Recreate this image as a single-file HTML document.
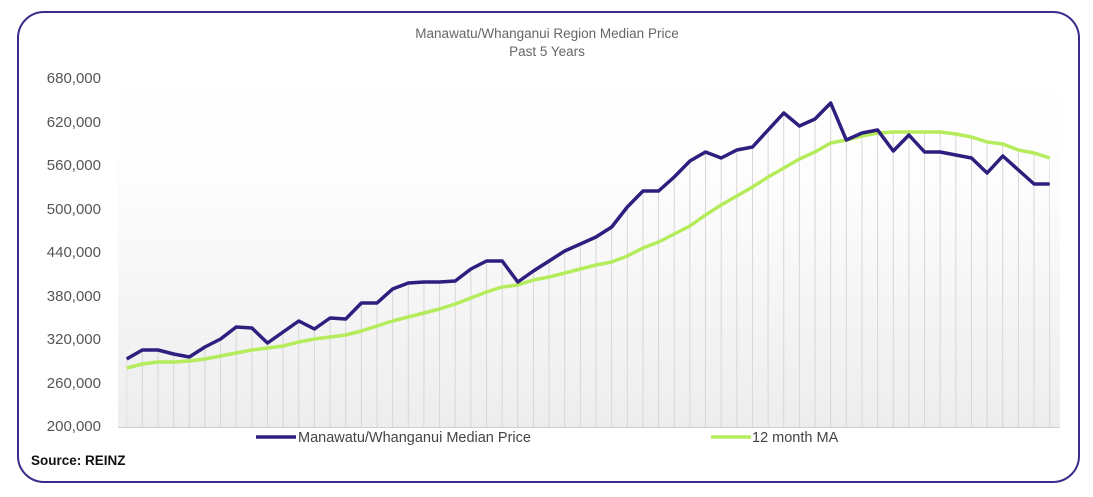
<!DOCTYPE html>
<html><head><meta charset="utf-8"><style>
html,body{margin:0;padding:0;background:#fff;}
svg{display:block;font-family:"Liberation Sans",sans-serif;}
</style></head><body>
<svg width="1093" height="497" viewBox="0 0 1093 497" xmlns="http://www.w3.org/2000/svg">
<defs>
<linearGradient id="bg" x1="0" y1="0" x2="0" y2="1">
<stop offset="0" stop-color="#ffffff"/><stop offset="0.3" stop-color="#fdfdfd"/><stop offset="1" stop-color="#ededed"/>
</linearGradient>
<pattern id="grid" patternUnits="userSpaceOnUse" x="126.2" y="0" width="15.644" height="10">
<rect x="0" y="0" width="1" height="10" fill="#d6d6d6"/>
</pattern>
<clipPath id="under">
<polygon points="126.7,428 126.7,359 142.3,350 158,350 173.6,354 189.3,357 204.9,347 220.6,339 236.2,327 251.9,328 267.5,343 283.1,332 298.8,321 314.4,329 330.1,318 345.7,319 361.4,303 377,303 392.6,289 408.3,283 423.9,282 439.6,282 455.2,281 470.9,269 486.5,261 502.2,261 517.8,282 533.4,271 549.1,261 564.7,251 580.4,244 596,237 611.7,227 627.3,207 643,191 658.6,191 674.2,177 689.9,161 705.5,152 721.2,158 736.8,150 752.5,147 768.1,130 783.8,113 799.4,126 815,119 830.7,103 846.3,140 862,133 877.6,130 893.3,151 908.9,135 924.6,152 940.2,152 955.8,155 971.5,158 987.1,173 1002.8,156 1018.4,170 1034.1,184 1049.7,184 1051,428"/>
<polygon points="126.7,428 830.7,428 830.7,143 846.3,140 862,136 877.6,133 893.3,132 908.9,132 924.6,132 940.2,132 955.8,134 971.5,137 987.1,142 1002.8,144 1018.4,150 1034.1,153 1049.7,158 1051,428"/>
</clipPath>
</defs>
<rect x="18" y="12" width="1061" height="470" rx="26" ry="26" fill="#fff" stroke="#3a2c8a" stroke-width="2"/>
<rect x="118" y="70" width="942" height="357" fill="url(#bg)"/>
<rect x="126" y="90" width="927" height="338" fill="url(#grid)" clip-path="url(#under)"/>
<line x1="118" y1="427.5" x2="1060" y2="427.5" stroke="#d0d0d0" stroke-width="1"/>
<g font-size="13.5" fill="#666" text-anchor="middle">
<text x="547" y="38">Manawatu/Whanganui  Region Median Price</text>
<text x="547" y="56">Past 5 Years</text>
</g>
<g font-size="15" fill="#555" text-anchor="end">
<text x="101" y="83">680,000</text>
<text x="101" y="127">620,000</text>
<text x="101" y="170">560,000</text>
<text x="101" y="214">500,000</text>
<text x="101" y="257">440,000</text>
<text x="101" y="301">380,000</text>
<text x="101" y="344">320,000</text>
<text x="101" y="388">260,000</text>
<text x="101" y="431">200,000</text>
</g>
<polyline fill="none" stroke="#b5ec5c" stroke-width="3.5" stroke-linejoin="round" points="126.7,368 142.3,364 158,362 173.6,362 189.3,361 204.9,359 220.6,356 236.2,353 251.9,350 267.5,348 283.1,346 298.8,342 314.4,339 330.1,337 345.7,335 361.4,331 377,326 392.6,321 408.3,317 423.9,313 439.6,309 455.2,304 470.9,298 486.5,292 502.2,287 517.8,285 533.4,280 549.1,277 564.7,273 580.4,269 596,265 611.7,262 627.3,256 643,248 658.6,242 674.2,234 689.9,226 705.5,215 721.2,205 736.8,196 752.5,187 768.1,177 783.8,168 799.4,159 815,152 830.7,143 846.3,140 862,136 877.6,133 893.3,132 908.9,132 924.6,132 940.2,132 955.8,134 971.5,137 987.1,142 1002.8,144 1018.4,150 1034.1,153 1049.7,158"/>
<polyline fill="none" stroke="#2e1f7f" stroke-width="3.5" stroke-linejoin="round" points="126.7,359 142.3,350 158,350 173.6,354 189.3,357 204.9,347 220.6,339 236.2,327 251.9,328 267.5,343 283.1,332 298.8,321 314.4,329 330.1,318 345.7,319 361.4,303 377,303 392.6,289 408.3,283 423.9,282 439.6,282 455.2,281 470.9,269 486.5,261 502.2,261 517.8,282 533.4,271 549.1,261 564.7,251 580.4,244 596,237 611.7,227 627.3,207 643,191 658.6,191 674.2,177 689.9,161 705.5,152 721.2,158 736.8,150 752.5,147 768.1,130 783.8,113 799.4,126 815,119 830.7,103 846.3,140 862,133 877.6,130 893.3,151 908.9,135 924.6,152 940.2,152 955.8,155 971.5,158 987.1,173 1002.8,156 1018.4,170 1034.1,184 1049.7,184"/>
<line x1="256" y1="437" x2="296" y2="437" stroke="#2e1f7f" stroke-width="3.5"/>
<text x="298" y="442" font-size="14.5" fill="#444">Manawatu/Whanganui Median Price</text>
<line x1="711" y1="437" x2="751" y2="437" stroke="#b5ec5c" stroke-width="3.5"/>
<text x="752" y="442" font-size="14.5" fill="#444">12 month MA</text>
<text x="31" y="465" font-size="13.5" font-weight="bold" fill="#111">Source: REINZ</text>
</svg>
</body></html>
